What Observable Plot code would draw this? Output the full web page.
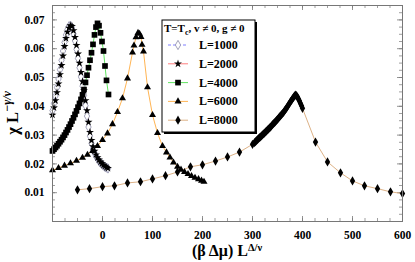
<!DOCTYPE html>
<html><head><meta charset="utf-8">
<script src="https://cdn.jsdelivr.net/npm/d3@7"></script>
<script src="https://cdn.jsdelivr.net/npm/@observablehq/plot@0.6"></script>
<style>
html,body{margin:0;padding:0;background:#fff;}
#chart{width:415px;height:262px;overflow:hidden;}
</style></head><body><div id="chart"></div>
<script>
// ---- data ----
const seriesNames = ["L=1000", "L=2000", "L=4000", "L=6000", "L=8000"];
const xTickLabels = [0, 100, 200, 300, 400, 500, 600];
const yTickLabels = [0.01, 0.02, 0.03, 0.04, 0.05, 0.06, 0.07];

const l1000X = [-100,-97,-94,-91,-88,-85,-82,-79,-76,-73,-70,-67,-64,-61,-58,-55,-52,-49,-46,-43,-40,-37,-34,-31,-28,-25,-22,-19,-16,-13,-10,-7,-4,-1,2,5,8,11];
const l1000Y = [0.0385,0.0410,0.0436,0.0465,0.0495,0.0527,0.0560,0.0592,0.0622,0.0648,0.0667,0.0678,0.0680,0.0672,0.0652,0.0627,0.0598,0.0566,0.0534,0.0502,0.0470,0.0438,0.0402,0.0366,0.0328,0.0296,0.0271,0.0252,0.0238,0.0227,0.0218,0.0210,0.0204,0.0199,0.0194,0.0190,0.0187,0.0184];

const l2000X = [-100,-97,-94,-91,-88,-85,-82,-79,-76,-73,-70,-67,-64,-61,-58,-55,-52,-49,-46,-43,-40,-37,-34,-31,-28,-25,-22,-19,-16,-13,-10,-7,-4,-1,2,5,8,11];
const l2000Y = [0.0370,0.0395,0.0420,0.0448,0.0478,0.0510,0.0542,0.0575,0.0608,0.0636,0.0658,0.0672,0.0680,0.0678,0.0663,0.0640,0.0612,0.0582,0.0550,0.0518,0.0486,0.0455,0.0420,0.0385,0.0345,0.0310,0.0282,0.0260,0.0245,0.0232,0.0222,0.0214,0.0207,0.0201,0.0196,0.0192,0.0188,0.0185];

const l4000X = [-100,-97,-94,-91,-88,-85,-82,-79,-76,-73,-70,-67,-64,-61,-58,-55,-52,-49,-46,-43,-40,-37,-34,-31,-28,-25,-22,-19,-16,-13,-10,-7,-4,-1,2,5,8,12];
const l4000Y = [0.0245,0.0251,0.0257,0.0263,0.0270,0.0277,0.0284,0.0292,0.0300,0.0309,0.0318,0.0328,0.0338,0.0349,0.0360,0.0372,0.0384,0.0397,0.0410,0.0424,0.0440,0.0458,0.0483,0.0508,0.0534,0.0560,0.0586,0.0615,0.0648,0.0675,0.0688,0.0680,0.0655,0.0625,0.0592,0.0540,0.0490,0.0441];

const l6000X = [-100,-88,-76,-64,-52,-40,-30,-20,-10,0,10,20,30,40,50,60,63,67,71,74,77,79,82,90,100,110,120,128,135,142,150,157,164,171,178,185,192,198,203];
const l6000Y = [0.0178,0.0186,0.0194,0.0202,0.0211,0.0221,0.0232,0.0245,0.0262,0.0283,0.0306,0.0338,0.0380,0.0428,0.0497,0.0587,0.0611,0.0640,0.0655,0.0652,0.0641,0.0614,0.0590,0.0466,0.0370,0.0307,0.0262,0.0240,0.0222,0.0205,0.0190,0.0180,0.0172,0.0165,0.0158,0.0152,0.0147,0.0142,0.0138];

const l8000X = [-50,-26,0,24,50,76,100,126,150,176,200,226,250,274,300,304,306,308,310,312,314,316,318,320,322,324,326,328,330,332,334,336,338,340,342,344,346,348,350,352,354,356,358,360,362,364,366,368,370,372,374,376,378,380,382,384,386,388,390,392,394,396,398,400,426,450,476,500,524,550,576,600];
const l8000Y = [0.0110,0.0114,0.0121,0.0124,0.0134,0.0138,0.0148,0.0159,0.0172,0.0190,0.0197,0.0210,0.0224,0.0241,0.0268,0.0274,0.0277,0.0281,0.0284,0.0288,0.0291,0.0294,0.0297,0.0301,0.0304,0.0307,0.0311,0.0314,0.0318,0.0321,0.0325,0.0328,0.0332,0.0336,0.0340,0.0343,0.0347,0.0351,0.0355,0.0359,0.0363,0.0367,0.0371,0.0375,0.0379,0.0384,0.0389,0.0394,0.0399,0.0405,0.0410,0.0416,0.0421,0.0426,0.0431,0.0436,0.0439,0.0437,0.0432,0.0425,0.0418,0.0410,0.0402,0.0393,0.0276,0.0207,0.0169,0.0141,0.0124,0.0114,0.0103,0.0097];

// ---- styles ----
const xsAll = [l1000X, l2000X, l4000X, l6000X, l8000X];
const ysAll = [l1000Y, l2000Y, l4000Y, l6000Y, l8000Y];
const lineColors = ["#6f6fff", "#ff6f6f", "#4fe04f", "#ffab40", "#d8a878"];
const dashes = ["3,2", null, null, null, null];
const symbols = ["diamond", "star", "square", "triangle", "diamond"];
const symRadius = [2.8, 2.5, 3.2, 2.6, 2.8];
const symFill = ["white", "black", "black", "black", "black"];
const symStroke = ["#8a8aa8", "none", "none", "none", "none"];

const table = seriesNames.map((name, i) => xsAll[i].map((x, j) => ({name, x, y: ysAll[i][j]})));

const W = 415, H = 262, mL = 52, mR = 13, mT = 5, mB = 41;
const fw = W - mL - mR, fh = H - mT - mB;
const font = "'Liberation Serif', 'Times New Roman', serif";
const xMinor = d3.range(-100, 601, 25);
const yMinor = d3.range(0, 0.0751, 0.0025);
const tickCol = "#777";

const marks = [];
// inward ticks
marks.push(Plot.tickX(xMinor, {x: d => d, insetTop: fh - 3, stroke: tickCol, strokeWidth: 0.7}));
marks.push(Plot.tickX(xMinor, {x: d => d, insetBottom: fh - 3, stroke: tickCol, strokeWidth: 0.7}));
marks.push(Plot.tickX(xTickLabels, {x: d => d, insetTop: fh - 5, stroke: tickCol, strokeWidth: 0.8}));
marks.push(Plot.tickX(xTickLabels, {x: d => d, insetBottom: fh - 5, stroke: tickCol, strokeWidth: 0.8}));
marks.push(Plot.tickY(yMinor, {y: d => d, insetRight: fw - 3, stroke: tickCol, strokeWidth: 0.7}));
marks.push(Plot.tickY(yMinor, {y: d => d, insetLeft: fw - 3, stroke: tickCol, strokeWidth: 0.7}));
marks.push(Plot.tickY(yTickLabels, {y: d => d, insetRight: fw - 5, stroke: tickCol, strokeWidth: 0.8}));
marks.push(Plot.tickY(yTickLabels, {y: d => d, insetLeft: fw - 5, stroke: tickCol, strokeWidth: 0.8}));

table.forEach((rows, i) => {
  marks.push(Plot.line(rows, {x: "x", y: "y", stroke: lineColors[i], strokeWidth: 0.9, strokeDasharray: dashes[i] || undefined}));
});
table.forEach((rows, i) => {
  marks.push(Plot.dot(rows, {x: "x", y: "y", symbol: symbols[i], r: symRadius[i], fill: symFill[i], stroke: symStroke[i], strokeWidth: 0.8}));
});
marks.push(Plot.frame({stroke: "#777", strokeWidth: 1}));
marks.push(Plot.axisX(xTickLabels, {tickSize: 0, tickPadding: 9, label: null, fontWeight: "bold", fontSize: 11.5}));
marks.push(Plot.axisY(yTickLabels, {tickSize: 0, tickPadding: 8, label: null, fontWeight: "bold", fontSize: 11.5, tickFormat: d3.format(".2f")}));

const chart = Plot.plot({
  width: W, height: H,
  marginLeft: mL, marginRight: mR, marginTop: mT, marginBottom: mB,
  style: {fontFamily: font, background: "white", color: "black"},
  x: {domain: [-100, 600]},
  y: {domain: [0, 0.075]},
  marks
});
document.getElementById("chart").appendChild(chart);

// ---- labels & legend ----
const svg = d3.select(chart);
const sym = {diamond: d3.symbolDiamond, star: d3.symbolStar, square: d3.symbolSquare, triangle: d3.symbolTriangle};

// y label
const yl = svg.append("text")
  .attr("transform", `translate(18,${mT + fh / 2}) rotate(-90)`)
  .attr("text-anchor", "middle")
  .attr("font-family", font).attr("font-weight", "bold").attr("font-size", 16.5).attr("fill", "black");
yl.append("tspan").text("χ L");
yl.append("tspan").attr("dy", -7).attr("font-size", 12).attr("font-style", "italic").text("−γ/ν");

// x label
const xl = svg.append("text")
  .attr("x", mL + fw / 2).attr("y", 256)
  .attr("text-anchor", "middle")
  .attr("font-family", font).attr("font-weight", "bold").attr("font-size", 16).attr("fill", "black");
xl.append("tspan").text("(β Δμ) L");
xl.append("tspan").attr("dy", -5).attr("font-size", 10.5).text("Δ/ν");

// legend
const lg = svg.append("g").attr("font-family", font).attr("font-weight", "bold").attr("fill", "black").attr("text-anchor", "start");
lg.append("rect").attr("x", 164).attr("y", 22).attr("width", 93).attr("height", 112).attr("fill", "#000");
lg.append("rect").attr("x", 162).attr("y", 20).attr("width", 93).attr("height", 112).attr("fill", "#fff").attr("stroke", "#000").attr("stroke-width", 1);
const tt = lg.append("text").attr("x", 164).attr("y", 32).attr("font-size", 11).attr("text-anchor", "start");
tt.append("tspan").text("T=T");
tt.append("tspan").attr("dy", 2.5).attr("font-size", 8).text("c");
tt.append("tspan").attr("dy", -2.5).text(", v ≠ 0, g ≠ 0");
seriesNames.forEach((name, i) => {
  const y = 45 + i * 18.8;
  lg.append("line").attr("x1", 168).attr("x2", 188).attr("y1", y).attr("y2", y)
    .attr("stroke", lineColors[i]).attr("stroke-width", 0.9).attr("stroke-dasharray", dashes[i]);
  lg.append("path").attr("transform", `translate(178,${y})`)
    .attr("d", d3.symbol(sym[symbols[i]], Math.PI * symRadius[i] * symRadius[i])())
    .attr("fill", symFill[i]).attr("stroke", symStroke[i]).attr("stroke-width", 0.8);
  lg.append("text").attr("x", 199).attr("y", y + 4).attr("font-size", 12).attr("text-anchor", "start").text(name);
});
</script></body></html>
